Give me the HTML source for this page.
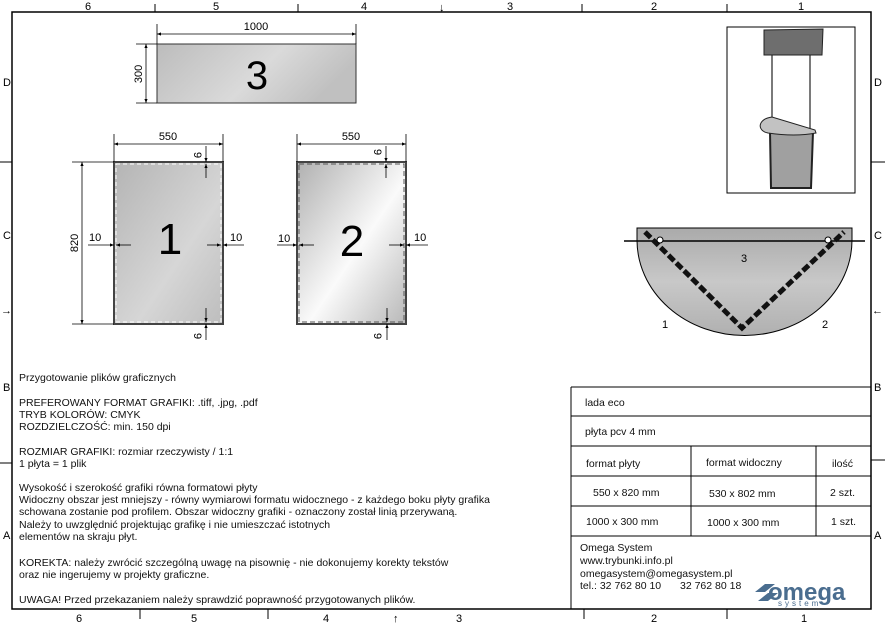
<!DOCTYPE html>
<html><head><meta charset="utf-8"><style>
html,body{margin:0;padding:0;background:#fff;}
svg{display:block;font-family:"Liberation Sans",sans-serif;}
</style></head><body>
<svg width="885" height="625" viewBox="0 0 885 625" xmlns="http://www.w3.org/2000/svg">
<defs>
<linearGradient id="g1" x1="0" y1="0" x2="1" y2="1"><stop offset="0" stop-color="#b4b4b4"/><stop offset="0.6" stop-color="#d6d6d6"/><stop offset="1" stop-color="#bdbdbd"/></linearGradient>
<linearGradient id="g2" x1="0" y1="0" x2="1" y2="1"><stop offset="0" stop-color="#b0b0b0"/><stop offset="0.55" stop-color="#fafafa"/><stop offset="1" stop-color="#b8b8b8"/></linearGradient>
<linearGradient id="g3" x1="0" y1="0" x2="1" y2="0.3"><stop offset="0" stop-color="#bcbcbc"/><stop offset="0.6" stop-color="#dadada"/><stop offset="1" stop-color="#c0c0c0"/></linearGradient>
<linearGradient id="g4" x1="0" y1="0" x2="0" y2="1"><stop offset="0" stop-color="#aaa"/><stop offset="0.5" stop-color="#c8c8c8"/><stop offset="1" stop-color="#b0b0b0"/></linearGradient>
<marker id="a" viewBox="0 0 10 10" refX="10" refY="5" markerWidth="7" markerHeight="5" orient="auto-start-reverse"><path d="M0,1 L10,5 L0,9z" fill="#000"/></marker>
</defs>
<g stroke="#000" fill="none">
<rect x="12" y="12" width="859" height="597" stroke-width="1.5"/>
<path d="M155 4V12M298 4V12M582 4V12M727 4V12M140 609V619M268 609V619M584 609V619M727 609V619M0 162H12M0 463H12M871 162H885M871 460H885"/>
</g>
<g font-size="11" fill="#000">
<text x="85" y="10">6</text><text x="213" y="10">5</text><text x="361" y="10">4</text><text x="507" y="10">3</text><text x="651" y="10">2</text><text x="798" y="10">1</text>
<text x="76" y="622">6</text><text x="191" y="622">5</text><text x="323" y="622">4</text><text x="456" y="622">3</text><text x="651" y="622">2</text><text x="801" y="622">1</text>
<text x="3" y="86">D</text><text x="3" y="239">C</text><text x="3" y="391">B</text><text x="3" y="539">A</text>
<text x="874" y="86">D</text><text x="874" y="239">C</text><text x="874" y="391">B</text><text x="874" y="539">A</text>
<text x="439" y="11">↓</text><text x="393" y="622">↑</text><text x="1" y="314">→</text><text x="872" y="314">←</text>
</g>
<rect x="157" y="44" width="199" height="59" fill="url(#g3)" stroke="#333"/>
<text x="257" y="89" font-size="40" text-anchor="middle">3</text>
<g stroke="#000" fill="none" stroke-width="0.8">
<path d="M157 24V44M356 24V44"/><path d="M157 34H356" marker-start="url(#a)" marker-end="url(#a)"/>
<path d="M136 44H157M136 103H157"/><path d="M146 44V103" marker-start="url(#a)" marker-end="url(#a)"/>
</g>
<text x="256" y="30" font-size="11" text-anchor="middle">1000</text>
<text transform="translate(142,74) rotate(-90)" font-size="11" text-anchor="middle">300</text>
<rect x="114" y="162" width="109" height="162" fill="url(#g1)" stroke="#444" stroke-width="2"/>
<rect x="116" y="164" width="105" height="158" fill="none" stroke="#fff" stroke-width="1" stroke-dasharray="4 3"/>
<text x="170" y="254" font-size="44" text-anchor="middle">1</text>
<rect x="297" y="162" width="109" height="162" fill="url(#g2)" stroke="#444" stroke-width="2"/>
<rect x="299" y="164" width="105" height="158" fill="none" stroke="#555" stroke-width="1" stroke-dasharray="5 3"/>
<text x="352" y="256" font-size="44" text-anchor="middle">2</text>
<g stroke="#000" fill="none" stroke-width="0.8">
<path d="M114 134V162M223 134V162M297 134V162M406 134V162"/>
<path d="M114 144H223" marker-start="url(#a)" marker-end="url(#a)"/>
<path d="M297 144H406" marker-start="url(#a)" marker-end="url(#a)"/>
<path d="M72 162H114M72 324H114"/><path d="M82 162V324" marker-start="url(#a)" marker-end="url(#a)"/>
<path d="M88 245H114" marker-end="url(#a)"/><path d="M131 245H116" marker-end="url(#a)"/>
<path d="M207 245H221" marker-end="url(#a)"/><path d="M244 245H223" marker-end="url(#a)"/>
<path d="M277 245H297" marker-end="url(#a)"/><path d="M314 245H299" marker-end="url(#a)"/>
<path d="M389 245H404" marker-end="url(#a)"/><path d="M428 245H406" marker-end="url(#a)"/>
<path d="M206 146V162" marker-end="url(#a)"/><path d="M206 178V164" marker-end="url(#a)"/>
<path d="M206 308V322" marker-end="url(#a)"/><path d="M206 340V324" marker-end="url(#a)"/>
<path d="M386 146V162" marker-end="url(#a)"/><path d="M386 178V164" marker-end="url(#a)"/>
<path d="M387 308V322" marker-end="url(#a)"/><path d="M387 340V324" marker-end="url(#a)"/>
</g>
<g font-size="11">
<text x="168" y="140" text-anchor="middle">550</text><text x="351" y="140" text-anchor="middle">550</text>
<text transform="translate(78,243) rotate(-90)" text-anchor="middle">820</text>
<text x="89" y="241">10</text><text x="230" y="241">10</text><text x="278" y="242">10</text><text x="414" y="241">10</text>
<text transform="translate(194,155) rotate(90)" text-anchor="middle">9</text>
<text transform="translate(194,336) rotate(90)" text-anchor="middle">9</text>
<text transform="translate(374,152) rotate(90)" text-anchor="middle">9</text>
<text transform="translate(374,336) rotate(90)" text-anchor="middle">9</text>
</g>
<!-- stand -->
<rect x="727" y="27" width="128" height="166" fill="#fff" stroke="#000"/>
<polygon points="764,30 823,29 822,55 764,55" fill="#6e6e6e" stroke="#222"/>
<path d="M772 55V118M810 55V131" stroke="#222" stroke-width="1.2" fill="none"/>
<path d="M770 132 L771 188 L811 188 L813 132Z" fill="#a0a0a0" stroke="#222" stroke-width="2"/>
<path d="M772 117 C757 119,757 131,768 133 Q795 137,816 133 L815 130 Z" fill="#c2c2c2" stroke="#222"/>
<path d="M637 228 H852 V240 A107 95 0 0 1 637 240 Z" fill="url(#g4)" stroke="#000"/>
<path d="M624 241H865" stroke="#000" stroke-width="1.5"/>
<path d="M645 232 L742 328 L844 232" stroke="#111" stroke-width="5" stroke-dasharray="8 3" fill="none"/>
<circle cx="660" cy="240" r="3" fill="#fff" stroke="#000"/><circle cx="828" cy="240" r="3" fill="#fff" stroke="#000"/>
<g font-size="11"><text x="741" y="262">3</text><text x="662" y="328">1</text><text x="822" y="328">2</text></g>
<g font-size="10.5" fill="#111">
<text x="19" y="381">Przygotowanie plików graficznych</text>
<text x="19" y="406">PREFEROWANY FORMAT GRAFIKI: .tiff, .jpg, .pdf</text>
<text x="19" y="418">TRYB KOLORÓW: CMYK</text>
<text x="19" y="430">ROZDZIELCZOŚĆ: min. 150 dpi</text>
<text x="19" y="455">ROZMIAR GRAFIKI: rozmiar rzeczywisty / 1:1</text>
<text x="19" y="467">1 płyta = 1 plik</text>
<text x="19" y="491">Wysokość i szerokość grafiki równa formatowi płyty</text>
<text x="19" y="503">Widoczny obszar jest mniejszy - równy wymiarowi formatu widocznego - z każdego boku płyty grafika</text>
<text x="19" y="515">schowana zostanie pod profilem. Obszar widoczny grafiki - oznaczony został linią przerywaną.</text>
<text x="19" y="528">Należy to uwzględnić projektując grafikę i nie umieszczać istotnych</text>
<text x="19" y="540">elementów na skraju płyt.</text>
<text x="19" y="566">KOREKTA: należy zwrócić szczególną uwagę na pisownię - nie dokonujemy korekty tekstów</text>
<text x="19" y="578">oraz nie ingerujemy w projekty graficzne.</text>
<text x="19" y="603">UWAGA! Przed przekazaniem należy sprawdzić poprawność przygotowanych plików.</text>
</g>
<g stroke="#000" fill="none">
<path d="M571 387V609M571 387H871M571 416H871M571 446H871M571 476H871M571 506H871M571 536H871M691 446V536M816 446V536"/>
</g>
<g font-size="10.5" fill="#111">
<text x="585" y="406">lada eco</text>
<text x="585" y="435">płyta pcv 4 mm</text>
<text x="586" y="467">format płyty</text><text x="706" y="466">format widoczny</text><text x="832" y="467">ilość</text>
<text x="593" y="496">550 x 820 mm</text><text x="709" y="497">530 x 802 mm</text><text x="830" y="496">2 szt.</text>
<text x="586" y="525">1000 x 300 mm</text><text x="707" y="526">1000 x 300 mm</text><text x="831" y="525">1 szt.</text>
<text x="580" y="551">Omega System</text>
<text x="580" y="564">www.trybunki.info.pl</text>
<text x="580" y="577">omegasystem@omegasystem.pl</text>
<text x="580" y="589">tel.: 32 762 80 10</text><text x="680" y="589">32 762 80 18</text>
</g>
<text x="768" y="600" font-size="24" font-weight="bold" fill="#4a6d8f">omega</text>
<text x="778" y="606" font-size="8" letter-spacing="3" fill="#4a6d8f">system</text>
<path d="M755 592 l10 -8 h10 l-10 8z M758 601 l10 -8 h10 l-10 8z" fill="#4a6d8f"/>
</svg>
</body></html>
